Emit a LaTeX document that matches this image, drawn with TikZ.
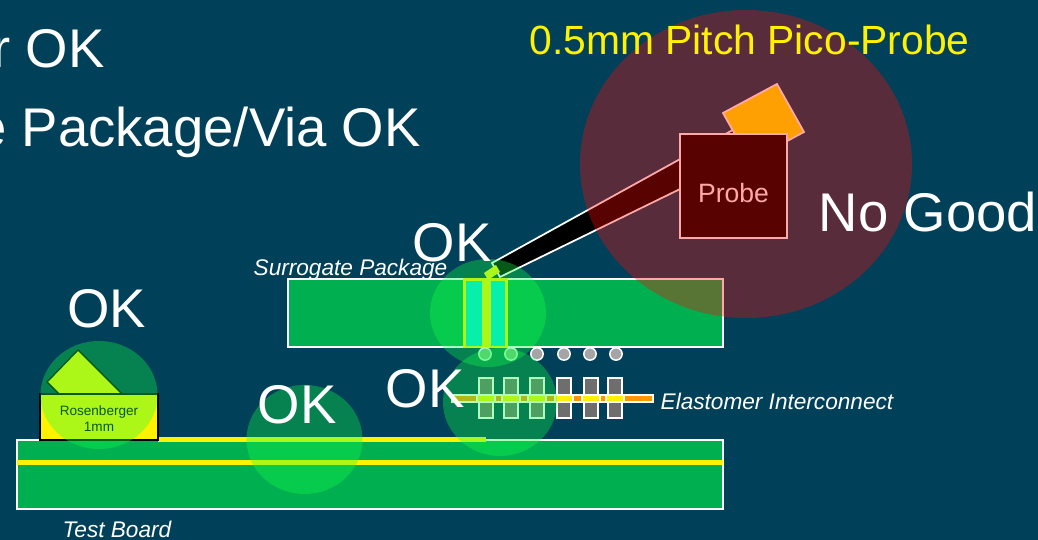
\documentclass[tikz,border=0pt]{standalone}
\usepackage{fontspec}
\setmainfont{Liberation Sans}
\definecolor{slideblue}{RGB}{0,64,88}
\definecolor{boardgreen}{RGB}{0,176,80}
\definecolor{viacyan}{RGB}{0,232,224}
\definecolor{ballgray}{RGB}{165,165,165}
\definecolor{postgray}{RGB}{110,110,110}
\definecolor{striporange}{RGB}{255,150,0}
\definecolor{okgreen}{RGB}{20,255,70}
\definecolor{badred}{RGB}{255,8,8}
\tikzset{
	board/.style={draw=white, line width=0.45pt, fill=boardgreen},
	trace/.style={draw=none, fill=yellow},
	ball/.style={draw=white, line width=0.42pt, fill=ballgray},
	post/.style={draw=white, line width=0.4pt, fill=postgray},
	okblob/.style={fill=okgreen, fill opacity=0.35},
	bigtext/.style={text=white, inner sep=0pt, font=\fontsize{15.5}{18}\selectfont, anchor=base},
	notetext/.style={text=white, inner sep=0pt, font=\fontsize{6.43}{8}\itshape\selectfont, anchor=base west},
}
\def\padpost(#1){\draw[post] (#1-7, 378) rectangle (#1+7, 418);\draw[draw=white, line width=0.35pt, fill=yellow] (#1-9, 395) rectangle (#1+9, 402);}

\begin{document}
\begin{tikzpicture}[x=0.01cm, y=-0.01cm]
	%%%%% START %%%%%
	\useasboundingbox (0, 0) rectangle (1038, 540);
	\fill[slideblue] (0, 0) rectangle (1038, 540);

	% boards
	\draw[board] (288, 279) rectangle (723, 347);
	\draw[board] (17, 440) rectangle (723, 509);
	\fill[trace] (17, 460.5) rectangle (723, 465.5);
	\fill[trace] (158, 437.5) rectangle (486, 442.5);

	% via in the surrogate package
	\draw[draw=yellow, line width=0.8pt, fill=viacyan] (464.5, 279.5) rectangle (506.5, 347);
	\fill[yellow] (482, 279) rectangle (491, 348);

	% elastomer
	\draw[draw=white, line width=0.35pt, fill=striporange] (452, 395) rectangle (653, 402);
	\foreach \x in {486, 511, 537, 564, 591, 615} {
		\padpost(\x)
	}
	\foreach \x in {485, 511, 537, 564, 590, 616} {
		\draw[ball] (\x, 354) circle (6.2);
	}

	% probe
	\draw[draw=white, line width=0.5pt, fill=black] (492, 263) -- (740, 126) -- (760, 150) -- (500, 277) -- cycle;
	\draw[draw=none, fill=yellow] (484, 273) -- (496, 265) -- (500, 272) -- (488, 280) -- cycle;
	\draw[draw=white, line width=0.5pt, fill=yellow] (723, 113) -- (777, 84) -- (804, 132) -- (750, 161) -- cycle;
	\draw[draw=white, line width=0.45pt, fill=black] (680, 134) rectangle (787, 238);
	\node[text=white, font=\fontsize{7.55}{9}\selectfont] (probe) at (733.5, 193) {Probe};

	% connector
	\draw[draw=black, line width=0.4pt, fill=yellow] (47, 382) -- (78, 350) -- (122, 394) -- (59, 394) -- cycle;
	\draw[draw=black, line width=0.55pt, fill=yellow] (40, 394) rectangle (158, 440);
	\node[text=black, align=center, font=\fontsize{3.85}{4.6}\selectfont] (rosen) at (99, 419) {Rosenberger\\1mm};

	% overlays
	\fill[okblob] (99, 395) circle [x radius=58.5, y radius=54];
	\fill[okblob] (304.5, 439.5) circle [x radius=58, y radius=54.5];
	\fill[okblob] (488, 313) circle [x radius=58, y radius=54];
	\fill[okblob] (500, 402) circle [x radius=57, y radius=54];
	\fill[badred, fill opacity=0.35] (746, 164) circle [x radius=166, y radius=154];

	% labels
	\node[bigtext, anchor=base east] (toptext) at (105.5, 68) {r OK};
	\node[bigtext, anchor=base east] (viatext) at (421.5, 147) {e Package/Via OK};
	\node[text=yellow, inner sep=0pt, font=\fontsize{11.6}{14}\selectfont, anchor=base west] (picotext) at (529, 55) {0.5mm Pitch Pico-Probe};
	\node[bigtext] (nogood) at (928, 232) {No Good};
	\node[bigtext] (okvia) at (452, 262) {OK};
	\node[bigtext] (okrosen) at (106.5, 328) {OK};
	\node[bigtext] (oktrace) at (297, 424) {OK};
	\node[bigtext] (okelast) at (425, 408) {OK};
	\node[notetext] (surrtext) at (253, 276) {Surrogate Package};
	\node[notetext] (elasttext) at (660, 410) {Elastomer Interconnect};
	\node[notetext] (boardtext) at (62, 538) {Test Board};
	%%%%% END %%%%%
\end{tikzpicture}
\end{document}
